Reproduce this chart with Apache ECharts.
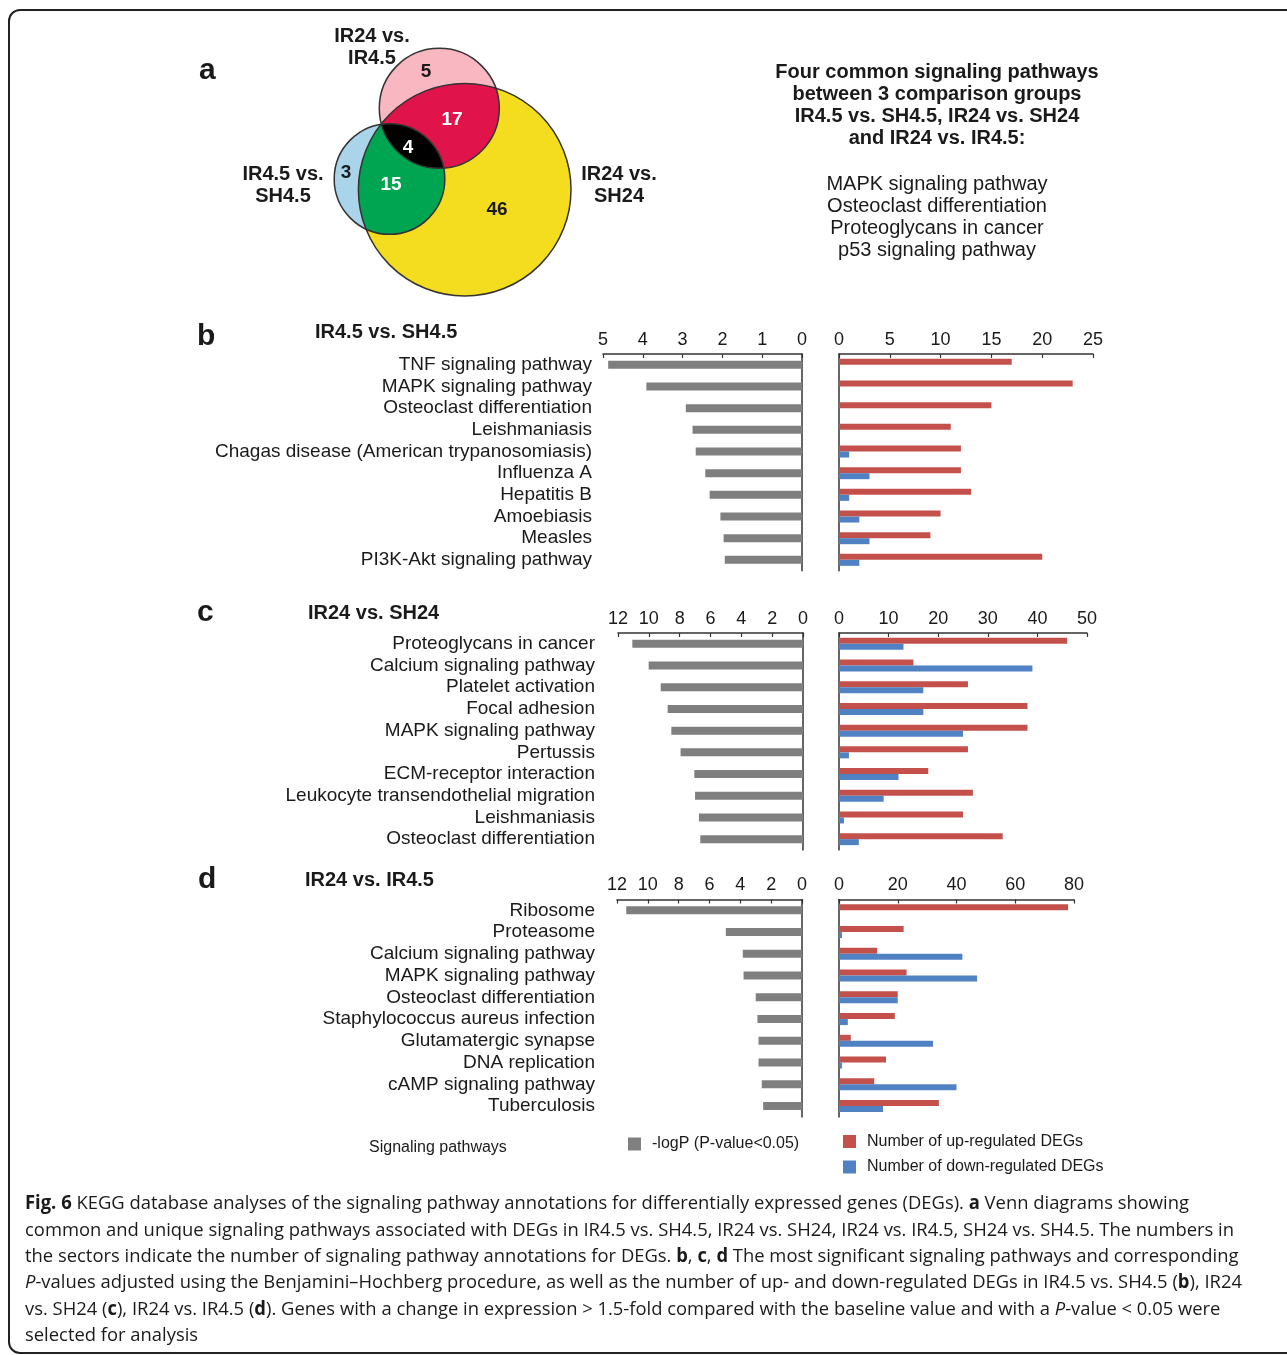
<!DOCTYPE html>
<html>
<head>
<meta charset="utf-8">
<script src="https://cdn.jsdelivr.net/npm/echarts@6/dist/echarts.min.js"></script>
<style>
  html, body { margin: 0; padding: 0; background: #fff; }
  #main { width: 1287px; height: 1355px; }
</style>
</head>
<body>
<div id="main"></div>
<script>
const FONT = '"Liberation Sans", Arial, Helvetica, sans-serif';
const CAP_FONT = '"Open Sans", "Noto Sans", sans-serif';

/* ---------------- data ---------------- */
// venn (a)
const vennRegions = ['IR24 vs. SH24 only', 'IR24 vs. IR4.5 only', 'IR4.5 vs. SH4.5 only',
  'IR24 vs. IR4.5 & IR24 vs. SH24', 'IR4.5 vs. SH4.5 & IR24 vs. SH24', 'all three'];
const vennCounts = [46, 5, 3, 17, 15, 4];

// b  IR4.5 vs. SH4.5
const bCats = ['TNF signaling pathway', 'MAPK signaling pathway', 'Osteoclast differentiation',
  'Leishmaniasis', 'Chagas disease (American trypanosomiasis)', 'Influenza A', 'Hepatitis B',
  'Amoebiasis', 'Measles', 'PI3K-Akt signaling pathway'];
const bLogP = [4.87, 3.91, 2.92, 2.75, 2.67, 2.43, 2.32, 2.05, 1.97, 1.94];
const bUp = [17, 23, 15, 11, 12, 12, 13, 10, 9, 20];
const bDown = [0, 0, 0, 0, 1, 3, 1, 2, 3, 2];

// c  IR24 vs. SH24
const cCats = ['Proteoglycans in cancer', 'Calcium signaling pathway', 'Platelet activation',
  'Focal adhesion', 'MAPK signaling pathway', 'Pertussis', 'ECM-receptor interaction',
  'Leukocyte transendothelial migration', 'Leishmaniasis', 'Osteoclast differentiation'];
const cLogP = [11.07, 10.01, 9.23, 8.78, 8.54, 7.94, 7.05, 7.0, 6.75, 6.66];
const cUp = [46, 15, 26, 38, 38, 26, 18, 27, 25, 33];
const cDown = [13, 39, 17, 17, 25, 2, 12, 9, 1, 4];

// d  IR24 vs. IR4.5
const dCats = ['Ribosome', 'Proteasome', 'Calcium signaling pathway', 'MAPK signaling pathway',
  'Osteoclast differentiation', 'Staphylococcus aureus infection', 'Glutamatergic synapse',
  'DNA replication', 'cAMP signaling pathway', 'Tuberculosis'];
const dLogP = [11.4, 4.94, 3.84, 3.79, 3.0, 2.89, 2.82, 2.82, 2.61, 2.52];
const dUp = [78, 22, 13, 23, 20, 19, 4, 16, 12, 34];
const dDown = [0, 1, 42, 47, 20, 3, 32, 1, 40, 15];

const commonPathways = ['MAPK signaling pathway', 'Osteoclast differentiation',
  'Proteoglycans in cancer', 'p53 signaling pathway'];

const captionLines = [
  '{b|Fig. 6} KEGG database analyses of the signaling pathway annotations for differentially expressed genes (DEGs). {b|a} Venn diagrams showing',
  'common and unique signaling pathways associated with DEGs in IR4.5 vs. SH4.5, IR24 vs. SH24, IR24 vs. IR4.5, SH24 vs. SH4.5. The numbers in',
  'the sectors indicate the number of signaling pathway annotations for DEGs. {b|b}, {b|c}, {b|d} The most significant signaling pathways and corresponding',
  '{i|P}-values adjusted using the Benjamini\u2013Hochberg procedure, as well as the number of up- and down-regulated DEGs in IR4.5 vs. SH4.5 ({b|b}), IR24',
  'vs. SH24 ({b|c}), IR24 vs. IR4.5 ({b|d}). Genes with a change in expression > 1.5-fold compared with the baseline value and with a {i|P}-value < 0.05 were',
  'selected for analysis'
];

/* ---------------- layout ---------------- */
// venn circles in the venn grid's units
const vennCircles = {
  yellow: { x: 134.7, y: 149.7, r: 106.3 },
  pink: { x: 109.3, y: 68.3, r: 60 },
  blue: { x: 59.5, y: 139, r: 55.3 }
};
const vennDraw = [
  { sets: ['yellow'], fill: '#f4dc1f', at: [167, 170], color: '#1a1a1a' },
  { sets: ['pink'], fill: '#f9b7c1', at: [96, 32], color: '#1a1a1a' },
  { sets: ['blue'], fill: '#a9d4e9', at: [16, 133], color: '#1a1a1a' },
  { sets: ['pink', 'yellow'], fill: '#e0144b', at: [122, 80], color: '#fff' },
  { sets: ['blue', 'yellow'], fill: '#00a551', at: [61, 145], color: '#fff' },
  { sets: ['blue', 'pink'], fill: '#000', at: [78, 108], color: '#fff' }
];

const panels = [
  { cats: bCats, logp: bLogP, up: bUp, down: bDown, maxL: 5, stepL: 1, maxR: 25, stepR: 5,
    top: 354, height: 216.7, left: [603, 802], right: [839, 1093], margin: 11 },
  { cats: cCats, logp: cLogP, up: cUp, down: cDown, maxL: 12, stepL: 2, maxR: 50, stepR: 10,
    top: 633, height: 217, left: [618, 803], right: [839, 1087], margin: 23 },
  { cats: dCats, logp: dLogP, up: dUp, down: dDown, maxL: 12, stepL: 2, maxR: 80, stepR: 20,
    top: 899.5, height: 217.4, left: [617, 802], right: [839, 1074], margin: 22 }
];

/* ---------------- venn helpers ---------------- */
function arcInside(C, p, q, O) {
  let a0 = Math.atan2(p[1] - C.y, p[0] - C.x);
  let a1 = Math.atan2(q[1] - C.y, q[0] - C.x);
  if (a1 < a0) a1 += 2 * Math.PI;
  const am = (a0 + a1) / 2;
  const mx = C.x + C.r * Math.cos(am), my = C.y + C.r * Math.sin(am);
  if (Math.hypot(mx - O.x, my - O.y) > O.r) a1 -= 2 * Math.PI;
  const pts = [];
  for (let i = 0; i <= 60; i++) {
    const t = a0 + (a1 - a0) * i / 60;
    pts.push([C.x + C.r * Math.cos(t), C.y + C.r * Math.sin(t)]);
  }
  return pts;
}
function lens(A, B) {
  const dx = B.x - A.x, dy = B.y - A.y, d = Math.hypot(dx, dy);
  const a = (A.r * A.r - B.r * B.r + d * d) / (2 * d);
  const h = Math.sqrt(Math.max(A.r * A.r - a * a, 0));
  const mx = A.x + a * dx / d, my = A.y + a * dy / d;
  const p1 = [mx + h * dy / d, my - h * dx / d];
  const p2 = [mx - h * dy / d, my + h * dx / d];
  return arcInside(A, p1, p2, B).concat(arcInside(B, p2, p1, A));
}

function renderVenn(params, api) {
  const i = params.dataIndex;
  const d = vennDraw[i];
  const px = k => {
    const c = vennCircles[k];
    const p = api.coord([c.x, c.y]);
    return { x: p[0], y: p[1], r: Math.abs(api.size([c.r, 0])[0]) };
  };
  const children = [];
  if (d.sets.length === 1) {
    const c = px(d.sets[0]);
    children.push({ type: 'circle', z2: i, shape: { cx: c.x, cy: c.y, r: c.r }, style: { fill: d.fill } });
  } else {
    children.push({ type: 'polygon', z2: i, shape: { points: lens(px(d.sets[0]), px(d.sets[1])) }, style: { fill: d.fill } });
  }
  if (i === vennDraw.length - 1) {
    Object.keys(vennCircles).forEach(k => {
      const c = px(k);
      children.push({ type: 'circle', z2: 20, shape: { cx: c.x, cy: c.y, r: c.r },
        style: { fill: 'none', stroke: '#333', lineWidth: 1.5 } });
    });
  }
  const p = api.coord(d.at);
  children.push({ type: 'text', x: p[0], y: p[1], z2: 30,
    style: { text: String(api.value(1)), fill: d.color, fontSize: 19, fontWeight: 'bold',
      fontFamily: FONT, align: 'center', verticalAlign: 'middle' } });
  return { type: 'group', children };
}

/* ---------------- build option ---------------- */
const lineStyle = { color: '#333', width: 1.5 };
const grid = [{ left: 330, top: 40, width: 250, height: 260 }];
const xAxis = [{ type: 'value', gridIndex: 0, min: 0, max: 250, show: false }];
const yAxis = [{ type: 'value', gridIndex: 0, min: 0, max: 260, inverse: true, show: false }];
const series = [{
  type: 'custom', name: 'venn', xAxisIndex: 0, yAxisIndex: 0, silent: true,
  data: vennCounts.map((v, i) => ({ name: vennRegions[i], value: [i, v] })),
  renderItem: renderVenn
}];

const tickLabel = { fontSize: 18, color: '#1a1a1a', fontFamily: FONT, margin: 5 };
const tick = { show: true, inside: true, length: 4, lineStyle: { color: '#333', width: 1.2 } };

panels.forEach(p => {
  const gL = grid.length, gR = gL + 1;
  grid.push({ left: p.left[0], width: p.left[1] - p.left[0], top: p.top, height: p.height });
  grid.push({ left: p.right[0], width: p.right[1] - p.right[0], top: p.top, height: p.height });

  const xL = xAxis.length;
  xAxis.push({ type: 'value', gridIndex: gL, position: 'top', inverse: true, min: 0, max: p.maxL,
    interval: p.stepL, axisLine: { show: true, onZero: false, lineStyle }, axisTick: tick,
    axisLabel: tickLabel, splitLine: { show: false } });
  xAxis.push({ type: 'value', gridIndex: gR, position: 'top', min: 0, max: p.maxR,
    interval: p.stepR, axisLine: { show: true, onZero: false, lineStyle }, axisTick: tick,
    axisLabel: tickLabel, splitLine: { show: false } });

  const yL = yAxis.length;
  yAxis.push({ type: 'category', gridIndex: gL, data: p.cats, inverse: true, position: 'left',
    axisLine: { show: false, onZero: false }, axisTick: { show: false },
    axisLabel: { interval: 0, fontSize: 19, color: '#1a1a1a', fontFamily: FONT, margin: p.margin } });
  yAxis.push({ type: 'category', gridIndex: gL, data: p.cats, inverse: true, position: 'right',
    axisLine: { show: true, onZero: false, lineStyle }, axisTick: { show: false }, axisLabel: { show: false } });
  yAxis.push({ type: 'category', gridIndex: gR, data: p.cats, inverse: true, position: 'left',
    axisLine: { show: true, onZero: false, lineStyle }, axisTick: { show: false }, axisLabel: { show: false } });

  series.push({ type: 'bar', name: '-logP (P-value<0.05)', xAxisIndex: xL, yAxisIndex: yL,
    data: p.logp, barWidth: 8, itemStyle: { color: '#7f7f7f' } });
  series.push({ type: 'bar', name: 'Number of up-regulated DEGs', xAxisIndex: xL + 1, yAxisIndex: yL + 2,
    data: p.up, barWidth: 6, barGap: '0%', itemStyle: { color: '#c4504c' } });
  series.push({ type: 'bar', name: 'Number of down-regulated DEGs', xAxisIndex: xL + 1, yAxisIndex: yL + 2,
    data: p.down, barWidth: 6, barGap: '0%', itemStyle: { color: '#5082c3' } });
});

/* ---------------- texts ---------------- */
function txt(x, y, text, extra) {
  return { type: 'text', x, y, silent: true,
    style: Object.assign({ text, fill: '#1a1a1a', fontFamily: FONT, fontSize: 20,
      align: 'left', verticalAlign: 'middle' }, extra || {}) };
}
const bold = { fontWeight: 'bold' };
const letter = { fontSize: 30, fontWeight: 'bold' };
const CAP_SIZE = 19;
const ctx = document.createElement('canvas').getContext('2d');
ctx.font = CAP_SIZE + 'px ' + CAP_FONT;
const capScale = 1209 / ctx.measureText(captionLines[1]).width;
const capRich = {
  b: { fontWeight: 'bold', fontFamily: CAP_FONT, fontSize: CAP_SIZE, fill: '#1a1a1a' },
  i: { fontStyle: 'italic', fontFamily: CAP_FONT, fontSize: CAP_SIZE, fill: '#1a1a1a' }
};

const graphic = [
  { type: 'rect', silent: true, shape: { x: 9, y: 10, width: 1310, height: 1343, r: 11 },
    style: { fill: 'none', stroke: '#222', lineWidth: 2 } },
  txt(199, 71, 'a', letter),
  txt(197, 337, 'b', letter),
  txt(197, 613, 'c', letter),
  txt(198, 880, 'd', letter),
  txt(372, 47, 'IR24 vs.\nIR4.5', { fontWeight: 'bold', align: 'center', lineHeight: 22 }),
  txt(283, 185, 'IR4.5 vs.\nSH4.5', { fontWeight: 'bold', align: 'center', lineHeight: 22 }),
  txt(619, 185, 'IR24 vs.\nSH24', { fontWeight: 'bold', align: 'center', lineHeight: 22 }),
  txt(937, 105.5, 'Four common signaling pathways\nbetween 3 comparison groups\nIR4.5 vs. SH4.5, IR24 vs. SH24\nand IR24 vs. IR4.5:',
    { fontWeight: 'bold', align: 'center', lineHeight: 22.3 }),
  txt(937, 217.5, commonPathways.join('\n'), { align: 'center', lineHeight: 22.3 }),
  txt(315, 332, 'IR4.5 vs. SH4.5', bold),
  txt(308, 613, 'IR24 vs. SH24', bold),
  txt(305, 880, 'IR24 vs. IR4.5', bold),
  txt(369, 1148, 'Signaling pathways', { fontSize: 16 })
];
captionLines.forEach((line, i) => {
  graphic.push({ type: 'text', x: 25, y: 1204 + i * 26.35, scaleX: capScale, silent: true,
    style: { text: line, rich: capRich, fill: '#1a1a1a', fontFamily: CAP_FONT, fontSize: CAP_SIZE,
      align: 'left', verticalAlign: 'middle' } });
});

const legendText = { fontSize: 16, color: '#1a1a1a', fontFamily: FONT, padding: [0, 0, 0, 6] };

const option = {
  animation: false,
  backgroundColor: '#fff',
  grid, xAxis, yAxis, series, graphic,
  legend: [
    { data: ['-logP (P-value<0.05)'], left: 628, top: 1136, padding: 0, icon: 'rect',
      itemWidth: 13, itemHeight: 13, selectedMode: false, textStyle: legendText },
    { data: ['Number of up-regulated DEGs', 'Number of down-regulated DEGs'], orient: 'vertical',
      left: 843, top: 1133.5, padding: 0, icon: 'rect', itemWidth: 13, itemHeight: 13, itemGap: 9.5,
      selectedMode: false, textStyle: legendText }
  ]
};

const chart = echarts.init(document.getElementById('main'));
chart.setOption(option);
</script>
</body>
</html>
